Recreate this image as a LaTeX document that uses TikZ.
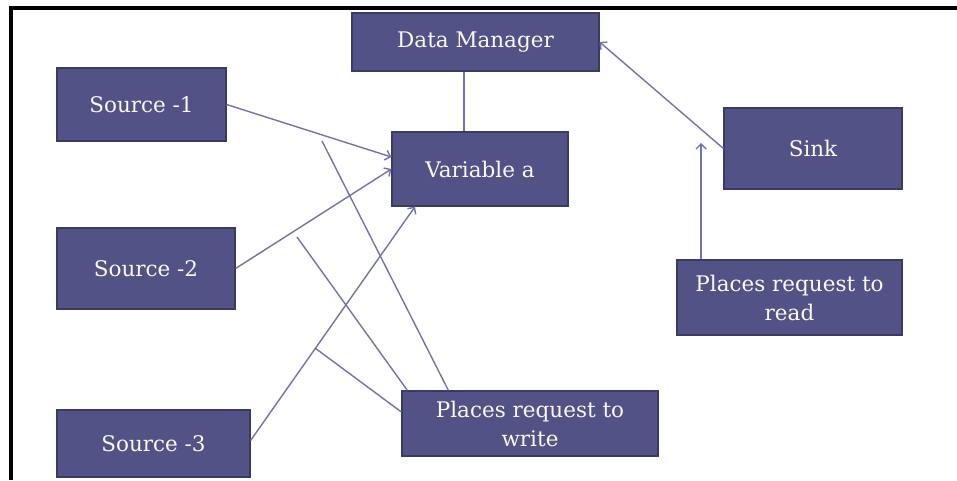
\documentclass[tikz,border=0pt]{standalone}
\usepackage{fontspec}
\setmainfont{DejaVu Serif}
\usetikzlibrary{arrows.meta,calc}
\definecolor{boxfill}{RGB}{82,82,134}
\definecolor{boxdraw}{RGB}{58,58,98}
\definecolor{linkcol}{RGB}{115,115,168}
\definecolor{txtcol}{RGB}{250,248,240}
\tikzset{
  box/.style={draw=boxdraw, line width=1.2pt, fill=boxfill, text=txtcol,
    font=\fontsize{21.5}{29}\selectfont, align=center, inner sep=0pt},
  link/.style={draw=linkcol, line width=1.4pt},
  arr/.style={link, -{Straight Barb[length=5pt,width=10pt]}}
}
\begin{document}
\begin{tikzpicture}[x=1pt,y=-1pt]
\useasboundingbox (0,0) rectangle (957,480);
\fill[white] (0,0) rectangle (957,480);
% frame
\draw[line width=4pt] (10.5,480) -- (10.5,8) -- (957,8);
% nodes
\node[box, minimum width=247pt, minimum height=58pt] (dm) at (475.5,42) {Data Manager};
\node[box, minimum width=176pt, minimum height=74pt] (va) at (480,169) {Variable a};
\node[box, minimum width=169pt, minimum height=73pt] (s1) at (141.5,104.5) {Source -1};
\node[box, minimum width=178pt, minimum height=81pt] (s2) at (146,268.5) {Source -2};
\node[box, minimum width=193pt, minimum height=67pt] (s3) at (153.5,443.5) {Source -3};
\node[box, minimum width=256pt, minimum height=65pt] (wr) at (530,423.5) {Places request to\\write};
\node[box, minimum width=178pt, minimum height=81pt] (sk) at (813,148.5) {Sink};
\node[box, minimum width=225pt, minimum height=75pt] (rd) at (789.5,297.5) {Places request to\\read};
% free ends
\coordinate (rdtip) at (701,143);
\coordinate (w1) at (297,237);
\coordinate (w2) at (322,141);
\coordinate (w3) at (315,348);
% connectors
\draw[link] ([xshift=-11.5pt]dm.south) -- ([xshift=-16pt]va.north);
\draw[arr] (s1.east) -- ([yshift=12pt]va.west);
\draw[arr] (s2.east) -- (va.west);
\draw[arr] ([yshift=3pt]s3.east) -- ([xshift=-65pt]va.south);
\draw[arr] (sk.west) -- (dm.east);
\draw[arr] ([xshift=-88.5pt]rd.north) -- (rdtip);
\draw[link] ([xshift=6pt]wr.north west) -- (w1);
\draw[link] ([xshift=47pt]wr.north west) -- (w2);
\draw[link] ([yshift=11.5pt]wr.west) -- (w3);
\end{tikzpicture}
\end{document}
